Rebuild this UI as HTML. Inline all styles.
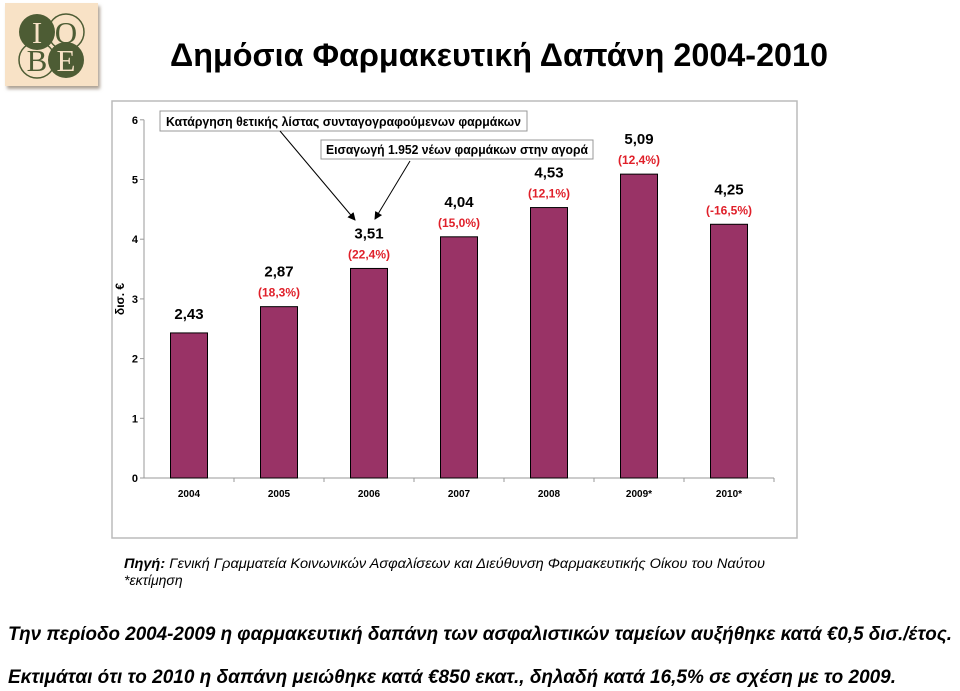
<!DOCTYPE html>
<html><head><meta charset="utf-8"><style>
body{margin:0;background:#fff;width:960px;height:691px;overflow:hidden}
svg{display:block;font-family:"Liberation Sans",Arial,sans-serif}
</style></head><body>
<svg id="c" width="960" height="691" viewBox="0 0 960 691">
<defs><marker id="ah" markerWidth="8" markerHeight="8" refX="7" refY="4" orient="auto"><path d="M0,0 L8,4 L0,8 z" fill="#000"/></marker>
<filter id="sh"><feDropShadow dx="2" dy="3" stdDeviation="1.5" flood-color="#8a7a66" flood-opacity="0.7"/></filter></defs>
<g>
<rect x="5" y="3" width="93" height="83" fill="#f8e2c6" filter="url(#sh)"/>
<circle cx="37" cy="32" r="18" fill="#4d5c34"/><circle cx="66" cy="32" r="18" fill="none" stroke="#4d5c34" stroke-width="1.5"/>
<circle cx="37" cy="60" r="18" fill="none" stroke="#4d5c34" stroke-width="1.5"/><circle cx="66" cy="60" r="18" fill="#4d5c34"/>
<text x="37" y="43" font-family="Liberation Serif" font-size="31" fill="#f8e2c6" text-anchor="middle">I</text>
<text x="66" y="43" font-family="Liberation Serif" font-size="31" fill="#4d5c34" text-anchor="middle">O</text>
<text x="37" y="71" font-family="Liberation Serif" font-size="31" fill="#4d5c34" text-anchor="middle">B</text>
<text x="66" y="71" font-family="Liberation Serif" font-size="31" fill="#f8e2c6" text-anchor="middle">E</text>
</g>
<text x="170" y="66" font-size="32" font-weight="bold" textLength="658" lengthAdjust="spacingAndGlyphs">Δημόσια Φαρμακευτική Δαπάνη 2004-2010</text>
<rect x="112" y="101" width="685" height="437" fill="#fff" stroke="#bbb" stroke-width="1.5"/>
<g id="plot"></g>
<g>
<rect x="160" y="111" width="367" height="20" fill="#fff" stroke="#999"/>
<text x="166" y="126" font-size="12.5" font-weight="bold" textLength="355" lengthAdjust="spacingAndGlyphs">Κατάργηση θετικής λίστας συνταγογραφούμενων φαρμάκων</text>
<line x1="280" y1="131" x2="355" y2="220" stroke="#000" marker-end="url(#ah)"/>
</g>
<g>
<rect x="321" y="140" width="272" height="19" fill="#fff" stroke="#999"/>
<text x="326" y="154" font-size="12.5" font-weight="bold" textLength="262" lengthAdjust="spacingAndGlyphs">Εισαγωγή 1.952 νέων φαρμάκων στην αγορά</text>
<line x1="410" y1="161" x2="375" y2="219" stroke="#000" marker-end="url(#ah)"/>
</g>
<text x="124" y="568" font-size="14" font-style="italic" textLength="641" lengthAdjust="spacingAndGlyphs"><tspan font-weight="bold">Πηγή:</tspan> Γενική Γραμματεία Κοινωνικών Ασφαλίσεων και Διεύθυνση Φαρμακευτικής Οίκου του Ναύτου</text>
<text x="124" y="585" font-size="14" font-style="italic">*εκτίμηση</text>
<text x="8" y="640" font-size="19" font-weight="bold" font-style="italic" textLength="944" lengthAdjust="spacingAndGlyphs">Την περίοδο 2004-2009 η φαρμακευτική δαπάνη των ασφαλιστικών ταμείων αυξήθηκε κατά €0,5 δισ./έτος.</text>
<text x="8" y="683" font-size="19" font-weight="bold" font-style="italic" textLength="888" lengthAdjust="spacingAndGlyphs">Εκτιμάται ότι το 2010 η δαπάνη μειώθηκε κατά €850 εκατ., δηλαδή κατά 16,5% σε σχέση με το 2009.</text>
</svg>
<script>
const categories=["2004","2005","2006","2007","2008","2009*","2010*"];
const values=[2.43,2.87,3.51,4.04,4.53,5.09,4.25];
const valueLabels=["2,43","2,87","3,51","4,04","4,53","5,09","4,25"];
const pctLabels=["","(18,3%)","(22,4%)","(15,0%)","(12,1%)","(12,4%)","(-16,5%)"];
const yTicks=[0,1,2,3,4,5,6];
const NS="http://www.w3.org/2000/svg";
const g=document.getElementById('plot');
const x0=144,step=90,y0=478,yU=59.7,bw=37;
const X=i=>x0+step/2+i*step, Y=v=>y0-v*yU;
function mk(t,a,txt){const e=document.createElementNS(NS,t);for(const k in a)e.setAttribute(k,a[k]);if(txt!=null)e.textContent=txt;g.appendChild(e);return e;}
const ax=mk('line',{x1:x0,y1:Y(6),x2:x0,y2:y0,stroke:'#999'});


const xa=mk('line',{x1:x0,y1:y0,x2:x0+step*categories.length,y2:y0,stroke:'#999'});


yTicks.forEach(v=>{
 mk('line',{x1:x0-4,y1:Y(v),x2:x0,y2:Y(v),stroke:'#999'});
 const t=mk('text',{x:x0-6,y:Y(v)+4,'font-size':11,'font-weight':'bold','text-anchor':'end'},String(v));
 
 
});
const yt=mk('text',{x:0,y:0,'font-size':12,'font-weight':'bold','text-anchor':'middle',transform:'translate(124,299) rotate(-90)'},'δισ. €');


categories.forEach((c,i)=>{
 mk('line',{x1:x0+(i+1)*step,y1:y0,x2:x0+(i+1)*step,y2:y0+4,stroke:'#999'});
 const t=mk('text',{x:X(i),y:y0+19,'font-size':10,'font-weight':'bold','text-anchor':'middle'},c);
 
 
 const b=mk('rect',{x:X(i)-bw/2,y:Y(values[i]),width:bw,height:values[i]*yU,fill:'#993366',stroke:'#000','stroke-width':1});
 
 
 const vl=mk('text',{x:X(i),y:Y(values[i])-(pctLabels[i]?30:14),'font-size':15,'font-weight':'bold','text-anchor':'middle'},valueLabels[i]);
 
 
 if(pctLabels[i]){const p=mk('text',{x:X(i),y:Y(values[i])-10,'font-size':12,'font-weight':'bold',fill:'#e0202a','text-anchor':'middle'},pctLabels[i]);
 
 }
});
</script>
</body></html>
